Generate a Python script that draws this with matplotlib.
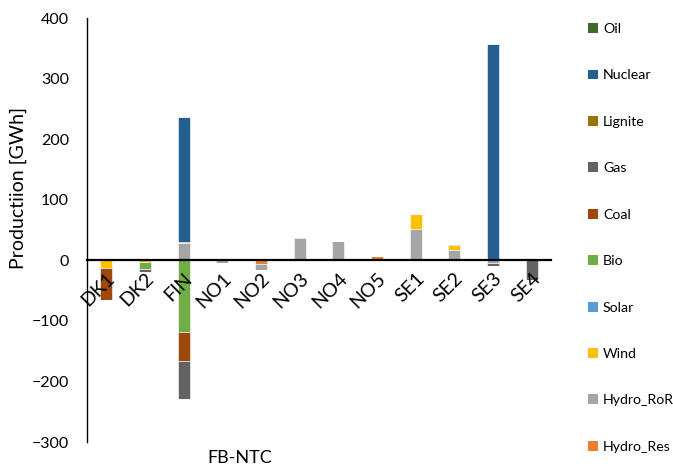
import numpy as np
import matplotlib
matplotlib.use("Agg")
import matplotlib.pyplot as plt
from matplotlib.patches import Patch

plt.rcParams['font.family'] = ['Lato', 'DejaVu Sans']

regions = ["DK1", "DK2", "FIN", "NO1", "NO2", "NO3", "NO4", "NO5", "SE1", "SE2", "SE3", "SE4"]

# Production by technology and bidding zone [GWh], in stacking order
hydro_res = [0, 0, 0, 0, -6, 0, 0, 7, 0, 0, 0, 0]
hydro_ror = [0, 0, 29, -5, -10, 36, 32, 0, 52, 17, -5, 0]
wind      = [-13, -3, 2, 0, 0, 0, 0, 0, 25, 8, 0, 2]
solar     = [0, 0, 0, 0, 0, 2, 0, 0, 0, 2, 0, 0]
bio       = [0, -11, -119, 0, 0, 0, 0, 0, 0, 0, 0, 0]
coal      = [-52, 0, -47, 0, 0, 0, 0, 0, 0, 0, 0, 0]
gas       = [0, -5, -63, 0, 0, 0, 0, 0, 0, 0, -4, -33]
lignite   = [0, 0, 0, 0, 0, 0, 0, 0, 0, 0, 0, 0]
nuclear   = [0, 0, 206, 0, 0, 0, 0, 0, 0, 0, 357, 0]
oil       = [2, 0, 0, 0, 0, 0, 0, 0, 0, 0, 0, 0]

series = [
    ("Hydro_Res", hydro_res, "#ED7D31"),
    ("Hydro_RoR", hydro_ror, "#A5A5A5"),
    ("Wind", wind, "#FFC000"),
    ("Solar", solar, "#5B9BD5"),
    ("Bio", bio, "#70AD47"),
    ("Coal", coal, "#9E480E"),
    ("Gas", gas, "#636363"),
    ("Lignite", lignite, "#997300"),
    ("Nuclear", nuclear, "#255E91"),
    ("Oil", oil, "#43682B"),
]

W, H = 673, 470
fig = plt.figure(figsize=(W / 100, H / 100), dpi=100)
ax = fig.add_axes([87 / W, 1 - 442 / H, (551 - 87) / W, (442 - 18) / H])
ax.set_axisbelow(False)

x = np.arange(len(regions))
pos_base = np.zeros(len(regions))
neg_base = np.zeros(len(regions))
for name, vals, color in series:
    v = np.array(vals, dtype=float)
    pos = np.where(v > 0, v, 0)
    neg = np.where(v < 0, v, 0)
    ax.bar(x, pos, 0.31, bottom=pos_base, color=color, edgecolor="white",
           linewidth=0.4, zorder=1)
    ax.bar(x, neg, 0.31, bottom=neg_base, color=color, edgecolor="white",
           linewidth=0.4, zorder=1)
    pos_base += pos
    neg_base += neg

ax.set_xlim(-0.5, len(regions) - 0.5)
ax.set_ylim(-300, 400)
ax.set_yticks(np.arange(-300, 401, 100))
ax.tick_params(axis="y", length=0, pad=13, labelsize=11.5, colors="black")

ax.spines["top"].set_visible(False)
ax.spines["right"].set_visible(False)
ax.spines["left"].set_linewidth(1.0)
ax.spines["bottom"].set_position(("data", 0))
ax.spines["bottom"].set_linewidth(1.6)
ax.spines["bottom"].set_zorder(3)

ax.set_xticks(x)
ax.set_xticklabels(regions, rotation=45, ha="right", va="top",
                   rotation_mode="anchor", fontsize=14)
ax.tick_params(axis="x", length=0, pad=7)

fig.text(18 / W, 1 - 188 / H, "Productiion [GWh]", rotation=90,
         ha="center", va="center", fontsize=14)
fig.text(240 / W, 1 - 458 / H, "FB-NTC", ha="center", va="center", fontsize=13)

handles = [Patch(facecolor=c, edgecolor="none", label=n) for n, _, c in series[::-1]]
fig.legend(handles=handles, loc="upper left", bbox_to_anchor=(588 / W, 1 - 23 / H),
           frameon=False, fontsize=10.2, labelspacing=2.43, handlelength=0.7,
           handleheight=0.7, handletextpad=0.35, borderaxespad=0, borderpad=0)

fig.savefig("out.png", dpi=100)
